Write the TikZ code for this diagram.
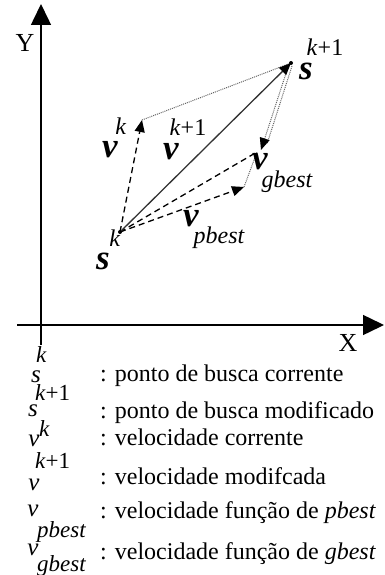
\documentclass[tikz,border=0pt]{standalone}
\usepackage{fontspec}
\setmainfont{Liberation Serif}
\usetikzlibrary{arrows.meta}
\begin{document}
\begin{tikzpicture}[x=1pt,y=-1pt,
  axis/.style={line width=1.5pt,-{Triangle[length=21pt,width=20pt]}},
  tri/.style={-{Triangle[length=12pt,width=10pt,color=black]}},
  dashln/.style={line width=1.3pt,dash pattern=on 6pt off 4pt},
  dashvec/.style={dashln,tri},
  dotln/.style={line width=1pt,black!60,dash pattern=on 1pt off 1pt},
  solidvec/.style={line width=1.3pt,black!80,tri},
  bigl/.style={font=\fontsize{35}{35}\selectfont\bfseries\itshape,inner sep=0pt},
  supl/.style={font=\fontsize{24}{24}\selectfont,inner sep=0pt},
  subl/.style={font=\fontsize{24}{24}\selectfont\itshape,inner sep=0pt},
  axl/.style={font=\fontsize{26}{26}\selectfont,inner sep=0pt},
  legsym/.style={font=\fontsize{25}{25}\selectfont\itshape,inner sep=0pt,anchor=base},
  legsup/.style={font=\fontsize{23}{23}\selectfont,inner sep=0pt,anchor=base west},
  legtxt/.style={font=\fontsize{24}{24}\selectfont,inner sep=0pt,anchor=base west}
]
\useasboundingbox (0,0) rectangle (384,575);
% axes
\coordinate (yb) at (41,345);
\coordinate (yt) at (41,4);
\coordinate (xl) at (17,325);
\coordinate (xr) at (384,325);
\draw[axis] (yb) -- (yt);
\draw[axis] (xl) -- (xr);
\node[axl] (ylab) at (25,43) {Y};
\node[axl] (xlab) at (348,343) {X};
% points
\coordinate (sk) at (120,232);
\coordinate (sk1) at (291,63);
\coordinate (vk) at (142,120);
\coordinate (pb) at (244,187);
\coordinate (gc) at (257,152);
\coordinate (gb) at (261,150);
\coordinate (sk1a) at (289,64);
\coordinate (sk1b) at (292,66);
\coordinate (gbb) at (267,144);
% vectors
\draw[dotln] (vk) -- (sk1);
\draw[dashvec] (sk) -- (vk);
\draw[dashln] (sk) -- (gc);
\draw[dotln] (pb) -- (gc);
\draw[dashvec] (sk) -- (pb);
\draw[dotln] (sk1b) -- (gbb);
\draw[dotln,tri] (sk1a) -- (gb);
\draw[solidvec] (sk) -- (sk1);
\fill (sk) circle (2);
\fill (sk1) circle (2);
% labels
\node[bigl] (lsk1) at (306,71) {s};
\node[supl] (lsk1s) at (325,47) {\textit{k}+1};
\node[bigl] (lvk) at (110,150) {v};
\node[supl] (lvks) at (121,126) {\textit{k}};
\node[bigl] (lvk1) at (171,152) {v};
\node[supl] (lvk1s) at (188,127) {\textit{k}+1};
\node[bigl] (lvg) at (260,162) {v};
\node[subl] (lvgs) at (287,182) {gbest};
\node[bigl] (lvp) at (191,219) {v};
\node[subl] (lvps) at (219,238) {pbest};
\node[bigl] (lsk) at (103,261) {s};
\node[supl] (lsks) at (115,238) {\textit{k}};
% legend
\node[legsym] (a1) at (36,382) {s};
\node[legsup] (a1s) at (36,362) {\textit{k}};
\node[legtxt] (t1) at (100,381) {: ponto de busca corrente};
\node[legsym] (a2) at (33,416) {s};
\node[legsup] (a2s) at (35,400) {\textit{k}+1};
\node[legtxt] (t2) at (100,418) {: ponto de busca modificado};
\node[legsym] (a3) at (34,446) {v};
\node[legsup] (a3s) at (39,436) {\textit{k}};
\node[legtxt] (t3) at (100,445) {: velocidade corrente};
\node[legsup] (a4s) at (35,468) {\textit{k}+1};
\node[legsym] (a4) at (34,490) {v};
\node[legtxt] (t4) at (100,484) {: velocidade modifcada};
\node[legsym] (a5) at (33,516) {v};
\node[legsup,font=\fontsize{23}{23}\selectfont\itshape] (a5s) at (37,537) {pbest};
\node[legtxt] (t5) at (100,518) {: velocidade função de \textit{pbest}};
\node[legsym] (a6) at (33,555) {v};
\node[legsup,font=\fontsize{23}{23}\selectfont\itshape] (a6s) at (37,571) {gbest};
\node[legtxt] (t6) at (100,559) {: velocidade função de \textit{gbest}};
\end{tikzpicture}
\end{document}
